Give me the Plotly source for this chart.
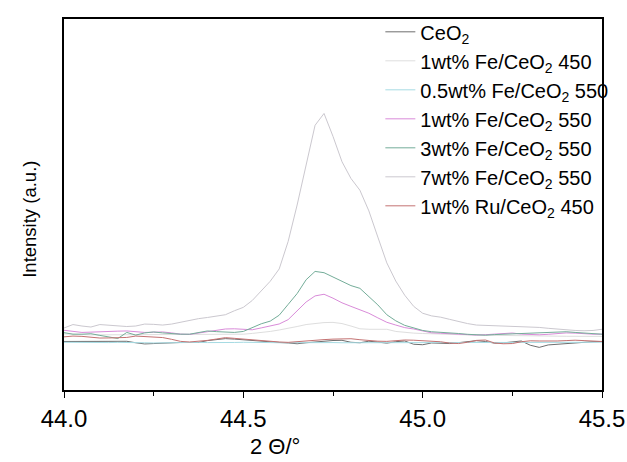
import plotly.graph_objects as go

two_theta = [round(44.0 + 0.025 * i, 3) for i in range(61)]

ceo2 = [49.3, 49.3, 49.3, 49.3, 49.5, 49.7, 50, 49.5, 48, 46.8,
        47.2, 47.7, 48.1, 48.3, 48.3, 48.3, 50.2, 51.2, 52.2, 51.7,
        50.9, 50.5, 50, 49.2, 48.3, 47.8, 47, 48, 49, 50,
        50.3, 50.5, 48.5, 48, 49.6, 48.7, 47.6, 49.1, 49.8, 46.5,
        46, 47.8, 47.7, 47.2, 48.1, 48.9, 50.1, 49.3, 47.6, 47.9,
        49.1, 49.8, 45.5, 43.3, 45.8, 46.5, 47.5, 48.3, 48.8, 49.1, 49.3]

fe1_450 = [57, 57, 56.5, 56, 56, 56, 56, 56.2, 56.5, 56.5,
           56.7, 56.7, 56.5, 56.5, 56.7, 56.7, 56.7, 56.7, 56.7, 56.7,
           56.7, 57.5, 58.2, 59.5, 61, 62.5, 64.5, 66.5, 67.5, 68.5,
           68.7, 67.5, 65, 62.2, 61.7, 61.7, 61.7, 59.5, 58.3, 57.8,
           57.4, 57, 56.7, 56.5, 56.3, 56, 55.8, 55.6, 55.4, 55.2,
           55, 55, 54.8, 54.8, 54.7, 54.7, 54.6, 54.5, 54.5, 54.5, 54.5]

fe05_550 = [48.5, 48.3, 48.2, 48, 48, 48.2, 48.4, 48.5, 48.3, 48,
            47.8, 48, 48.2, 48.3, 48.5, 48.4, 48.2, 48, 48, 48.3,
            48.5, 48.6, 48.4, 48.2, 48, 48.1, 48.3, 48.5, 48.6, 48.4,
            48.2, 48, 48, 48.2, 48.4, 48.5, 48.3, 48.1, 48, 48.2,
            48.4, 48.5, 48.3, 48.1, 48, 48.2, 48.4, 48.5, 48.3, 48.2,
            48, 48.1, 48.3, 48.4, 48.5, 48.3, 48.2, 48, 48.2, 48.4, 48.5]

fe1_550 = [60.7, 59.5, 58.5, 58.8, 59.3, 59.5, 59.8, 60, 59.2, 58.5,
           58.7, 59, 58, 56.8, 56.5, 58, 59.3, 60.5, 62, 62.2,
           61.5, 61.2, 63.1, 65.1, 67.1, 71.5, 80.3, 89.4, 95.6, 97.3,
           93.3, 88.6, 85, 81.5, 78, 73.3, 68.8, 66, 63.4, 62,
           60.1, 58.1, 57.7, 57.1, 56.7, 56.2, 55.8, 56.2, 56.6, 57.2,
           57.9, 56.8, 56.2, 56.1, 56.6, 57.4, 58, 57.8, 57.1, 56.7, 56.7]

fe3_550 = [58.3, 56.7, 56.7, 57.2, 55.5, 54, 52.3, 58.5, 55.8, 58,
           59, 58, 57, 56.7, 56.7, 58, 60, 59.3, 58.7, 58.5,
           59.5, 63.8, 67.3, 70, 76, 87, 98, 112, 120.5, 119.2,
           115, 110, 106.1, 103.3, 94.5, 86.5, 76.5, 70.3, 65.7, 62.8,
           60.5, 59.2, 58.8, 58, 57.4, 56.6, 56.2, 55.7, 56.3, 56.7,
           57, 57.2, 57.5, 58, 58.3, 58.8, 59.2, 58.5, 57.7, 57, 56.7]

fe7_550 = [63, 66.5, 65, 64, 66.5, 66, 65.3, 64.5, 65, 67,
           66.7, 66, 67, 69, 70.5, 72.5, 73.7, 75, 76.5, 80.5,
           84, 91, 100.5, 110.5, 123, 151, 188, 228.6, 269, 281,
           257.7, 232, 215, 203, 182, 155.4, 129.2, 110.7, 96.3, 85,
           78, 75.3, 74, 71.8, 69.5, 67.5, 66, 65.7, 65.4, 65.1,
           64.9, 64.5, 64.2, 63.6, 62.7, 61.8, 60.9, 60.5, 60.2, 60.5, 61.7]

ru1_450 = [54, 54.8, 54.5, 53.5, 52.8, 52.9, 53.1, 53.4, 54.8, 54.5,
           53.8, 53.3, 51.5, 49.4, 48.8, 49.3, 50.4, 51.8, 53.2, 52.5,
           51.7, 50.8, 49.8, 49.1, 48.8, 48.4, 49.2, 50.2, 50.8, 51.2,
           51.7, 52.1, 52.1, 51.1, 50.2, 49.6, 49.4, 50, 50.8, 50.6,
           50.1, 49.8, 49, 47.7, 47.2, 48.5, 50.4, 50.8, 47.8, 47,
           47.2, 49, 50, 49.8, 49.5, 49.8, 50.2, 50.6, 50.2, 49.7, 49.3]

names = ["CeO<sub>2</sub>",
         "1wt% Fe/CeO<sub>2</sub> 450",
         "0.5wt% Fe/CeO<sub>2</sub> 550",
         "1wt% Fe/CeO<sub>2</sub> 550",
         "3wt% Fe/CeO<sub>2</sub> 550",
         "7wt% Fe/CeO<sub>2</sub> 550",
         "1wt% Ru/CeO<sub>2</sub> 450"]
series = [ceo2, fe1_450, fe05_550, fe1_550, fe3_550, fe7_550, ru1_450]
colors = ["#6e6e6e", "#dedede", "#a6dbe3", "#d98bd9", "#74ad99", "#cbc8cf", "#c47272"]

x_title = "2 \u0398/\u00b0"
y_title = "Intensity (a.u.)"

fig = go.Figure()
for n, s, c in zip(names, series, colors):
    fig.add_trace(go.Scatter(x=two_theta, y=s, mode="lines", name=n,
                             line=dict(color=c, width=1)))

font = "Liberation Sans, Arial, sans-serif"
fig.update_layout(
    width=627, height=462,
    margin=dict(l=64, r=25, t=13, b=72),
    paper_bgcolor="white", plot_bgcolor="white",
    font=dict(family=font, color="black"),
    legend=dict(x=0.588, y=1.018, xanchor="left", yanchor="top",
                bgcolor="rgba(0,0,0,0)", font=dict(size=20, family=font),
                tracegroupgap=0),
    xaxis=dict(range=[44.0, 45.5], tickvals=[44.0, 44.5, 45.0, 45.5],
               ticktext=["44.0", "44.5", "45.0", "45.5"],
               ticks="outside", ticklen=6, tickwidth=1.3, tickcolor="black",
               minor=dict(tickvals=[44.25, 44.75, 45.25], ticks="outside",
                          ticklen=4, tickcolor="black", tickwidth=1.3),
               showline=True, linecolor="black", linewidth=1.5, mirror=True,
               showgrid=False, zeroline=False, automargin=False,
               tickfont=dict(size=24)),
    yaxis=dict(range=[0, 377], showticklabels=False, ticks="",
               showline=True, linecolor="black", linewidth=1.5, mirror=True,
               showgrid=False, zeroline=False, automargin=False),
    annotations=[
        dict(text=x_title, xref="paper", yref="paper", x=0.392, y=-0.151,
             xanchor="center", yanchor="middle", showarrow=False,
             font=dict(size=22, family=font, color="black")),
        dict(text=y_title, xref="paper", yref="paper", x=-0.0632, y=0.4615,
             xanchor="center", yanchor="middle", showarrow=False, textangle=-90,
             font=dict(size=18.5, family=font, color="black")),
    ],
)

fig.write_html("out.html", config={"displayModeBar": False},
               post_script="document.body.style.margin='0px';")
